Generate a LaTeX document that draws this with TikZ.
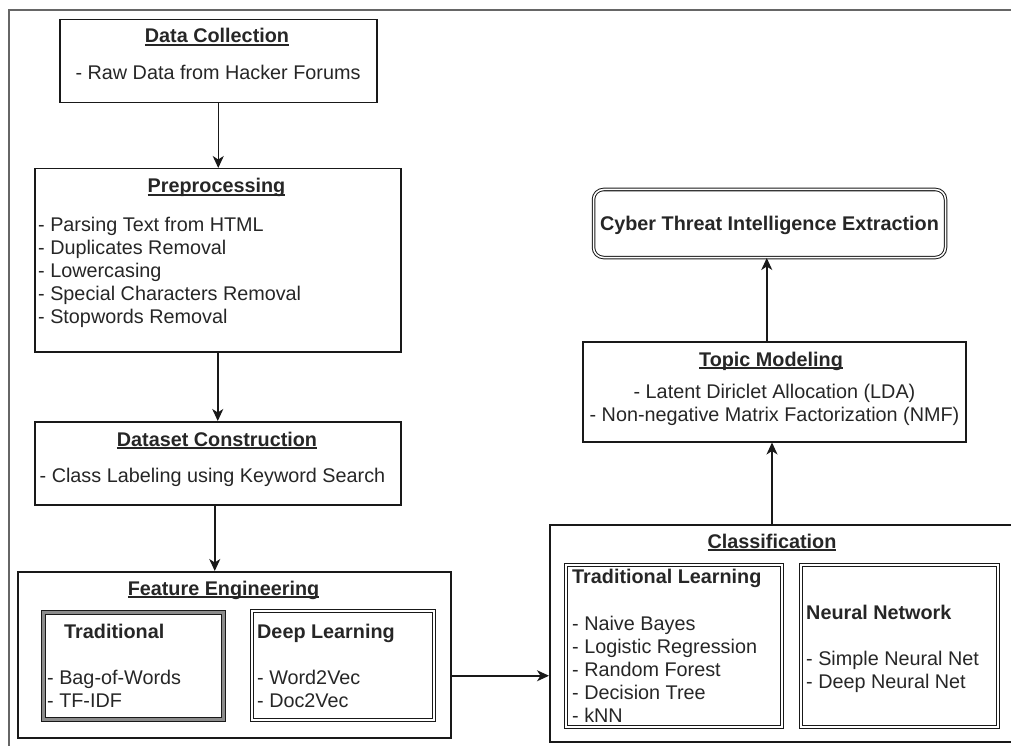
\documentclass[tikz,border=0pt]{standalone}
\usepackage{fontspec}
\setmainfont{Liberation Sans}
\usetikzlibrary{arrows.meta}
\newsavebox\ulbox
\newcommand{\ulined}[1]{\sbox\ulbox{#1}\rlap{\rule[-2.6pt]{\wd\ulbox}{1.2pt}}\usebox\ulbox}

\begin{document}
\begin{tikzpicture}[x=1pt, y=-1pt,
        every node/.style={font=\fontsize{19.8}{23}\selectfont, inner sep=0pt, text=black!85},
        stage/.style={draw=black!90, line width=1.5pt, anchor=north west},
        dbl/.style={draw=black!90, line width=1pt, double=white, double distance=1.5pt, anchor=north west},
        head/.style={font=\fontsize{19.8}{23}\selectfont\bfseries},
        flow/.style={-{Stealth[length=12pt, width=11pt, inset=3.5pt]}, line width=1.5pt, draw=black!90}]
            \useasboundingbox (0,0) rectangle (1011,746);
            \clip (0,0) rectangle (1011,746);
            \draw[black!60, line width=2.2pt] (1030,10) -| (9,760);

            \node[stage, minimum width=317, minimum height=83] (dc) at (59,19) {};
            \node[head, anchor=base] (dcT) at (217,43) {\ulined{Data Collection}};
            \node[anchor=base] (dcB) at (218,80) {- Raw Data from Hacker Forums};

            \node[stage, minimum width=366, minimum height=183] (pp) at (34,168) {};
            \node[head, anchor=base] (ppT) at (216.5,193) {\ulined{Preprocessing}};
            \node[anchor=north west, align=left] (ppB) at (38,217) {- Parsing Text from HTML\\- Duplicates Removal\\- Lowercasing\\- Special Characters Removal\\- Stopwords Removal};

            \node[stage, minimum width=366, minimum height=83] (ds) at (34,421) {};
            \node[head, anchor=base] (dsT) at (217,446) {\ulined{Dataset Construction}};
            \node[anchor=base] (dsB) at (212.5,482) {- Class Labeling using Keyword Search};

            \node[stage, minimum width=433, minimum height=166] (fe) at (17,571) {};
            \node[head, anchor=base] (feT) at (223.5,595) {\ulined{Feature Engineering}};
            \node[draw=black!90, line width=1pt, double=black!45, double distance=3pt, anchor=north west, minimum width=180, minimum height=107] (ft) at (42.5,611.5) {};
            \node[head, anchor=base west] (ftT) at (64,638) {Traditional};
            \node[anchor=north west, align=left] (ftB) at (47,670) {- Bag-of-Words\\- TF-IDF};
            \node[dbl, minimum width=182, minimum height=109] (fd) at (251.5,610.5) {};
            \node[head, anchor=base west] (fdT) at (257,638) {Deep Learning};
            \node[anchor=north west, align=left] (fdB) at (257,670) {- Word2Vec\\- Doc2Vec};

            \node[stage, minimum width=481, minimum height=217] (cl) at (549,524) {};
            \node[head, anchor=base] (clT) at (772,548) {\ulined{Classification}};
            \node[dbl, minimum width=216, minimum height=162] (tl) at (565.5,564.5) {};
            \node[head, anchor=base west] (tlT) at (572,583) {Traditional Learning};
            \node[anchor=north west, align=left] (tlB) at (572,616) {- Naive Bayes\\- Logistic Regression\\- Random Forest\\- Decision Tree\\- kNN};
            \node[dbl, minimum width=197, minimum height=162] (nn) at (800.5,564.5) {};
            \node[head, anchor=base west] (nnT) at (806,619) {Neural Network};
            \node[anchor=north west, align=left] (nnB) at (806,651) {- Simple Neural Net\\- Deep Neural Net};

            \node[stage, minimum width=383, minimum height=100] (tm) at (582,341) {};
            \node[head, anchor=base] (tmT) at (771,366) {\ulined{Topic Modeling}};
            \node[anchor=north, align=center] (tmB) at (774.5,384) {- Latent Diriclet Allocation (LDA)\\- Non-negative Matrix Factorization (NMF)};

            \node[dbl, head, rounded corners=10pt, minimum width=352, minimum height=68, text height=14pt, text depth=0pt, anchor=center] (cti) at (769.5,223.5) {Cyber Threat Intelligence Extraction};

            \draw[flow] (dc.south) -- (dc.south |- pp.north);
            \draw[flow] (pp.south) -- (pp.south |- ds.north);
            \draw[flow] ([xshift=-3pt]ds.south) -- ([xshift=-3pt]ds.south |- fe.north);
            \draw[flow] ([yshift=-21pt]fe.east) -- ([yshift=-21pt]fe.east -| cl.west);
            \draw[flow] (clT |- cl.north) -- (clT |- tm.south);
            \draw[flow] ([xshift=-7.5pt]tm.north) -- ([xshift=-7.5pt]tm.north |- cti.south);
        \end{tikzpicture}
\end{document}
